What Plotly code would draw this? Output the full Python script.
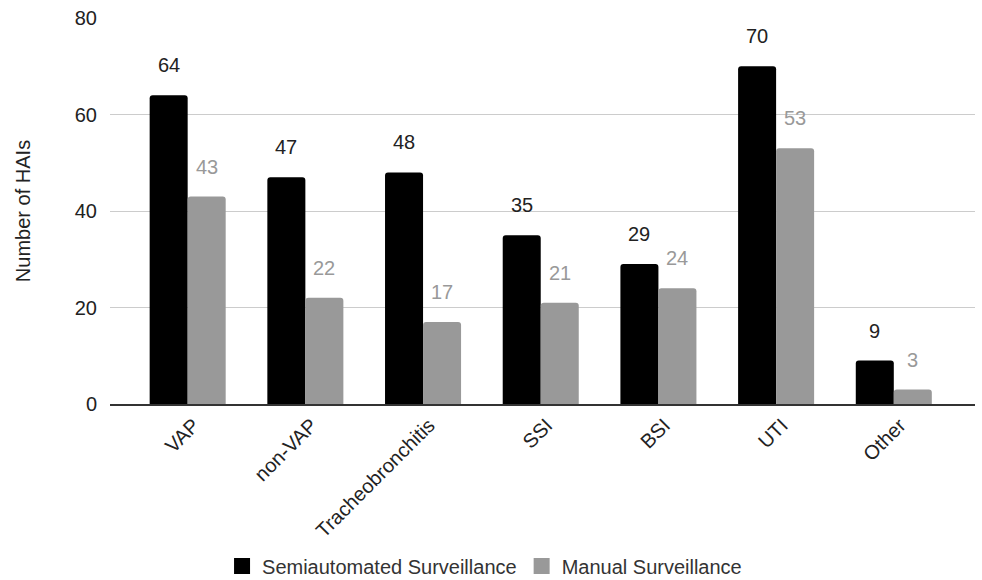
import plotly.graph_objects as go

categories = ["VAP", "non-VAP", "Tracheobronchitis", "SSI", "BSI", "UTI", "Other"]
semi = [64, 47, 48, 35, 29, 70, 9]
manual = [43, 22, 17, 21, 24, 53, 3]
series_names = ["Semiautomated Surveillance", "Manual Surveillance"]
colors = ["#000000", "#999999"]
label_colors = ["#222222", "#999999"]

FONT = "Liberation Sans, Arial, sans-serif"
FS = 20

fig = go.Figure()
for name, vals, c in zip(series_names, [semi, manual], colors):
    fig.add_trace(go.Bar(
        x=categories, y=vals, name=name, showlegend=False,
        marker=dict(color=c, line=dict(width=0), cornerradius=3),
    ))
# legend entries with square swatches
for name, c in zip(series_names, colors):
    fig.add_trace(go.Scatter(
        x=[None], y=[None], mode="markers", name=name,
        marker=dict(symbol="square", size=18, color=c),
    ))

# value labels above bars
for vals, lc, shift in zip([semi, manual], label_colors, [-19, 19]):
    for cat, v in zip(categories, vals):
        fig.add_annotation(
            x=cat, y=v, xref="x", yref="y", text=str(v), showarrow=False,
            xshift=shift, yshift=30, font=dict(family=FONT, size=FS, color=lc),
        )

fig.update_layout(
    width=982, height=580,
    margin=dict(l=110, r=7, t=18, b=176, autoexpand=False),
    paper_bgcolor="white", plot_bgcolor="white",
    barmode="group", bargap=0.354, bargroupgap=0,
    font=dict(family=FONT, size=FS, color="#222222"),
    showlegend=True,
    legend=dict(orientation="h", x=0.433, xanchor="center", y=-0.42, yanchor="middle",
                font=dict(family=FONT, size=FS, color="#333333"),
                traceorder="normal", itemsizing="trace"),
)
fig.update_xaxes(
    range=[-0.66, 6.69], tickangle=-45, showgrid=False, automargin=False,
    showline=True, linecolor="#333333", linewidth=1.5, ticklabelshift=6,
    tickfont=dict(family=FONT, size=FS, color="#222222"), ticks="",
)
fig.update_yaxes(
    range=[0, 80], dtick=20, showgrid=True, gridcolor="#cccccc", gridwidth=1,
    zeroline=False, showline=False, ticks="", ticklabelstandoff=12, automargin=False,
    tickfont=dict(family=FONT, size=FS, color="#222222"),
    title=dict(text="Number of HAIs", font=dict(family=FONT, size=FS, color="#222222"), standoff=38),
)

fig.write_html("out.html")
